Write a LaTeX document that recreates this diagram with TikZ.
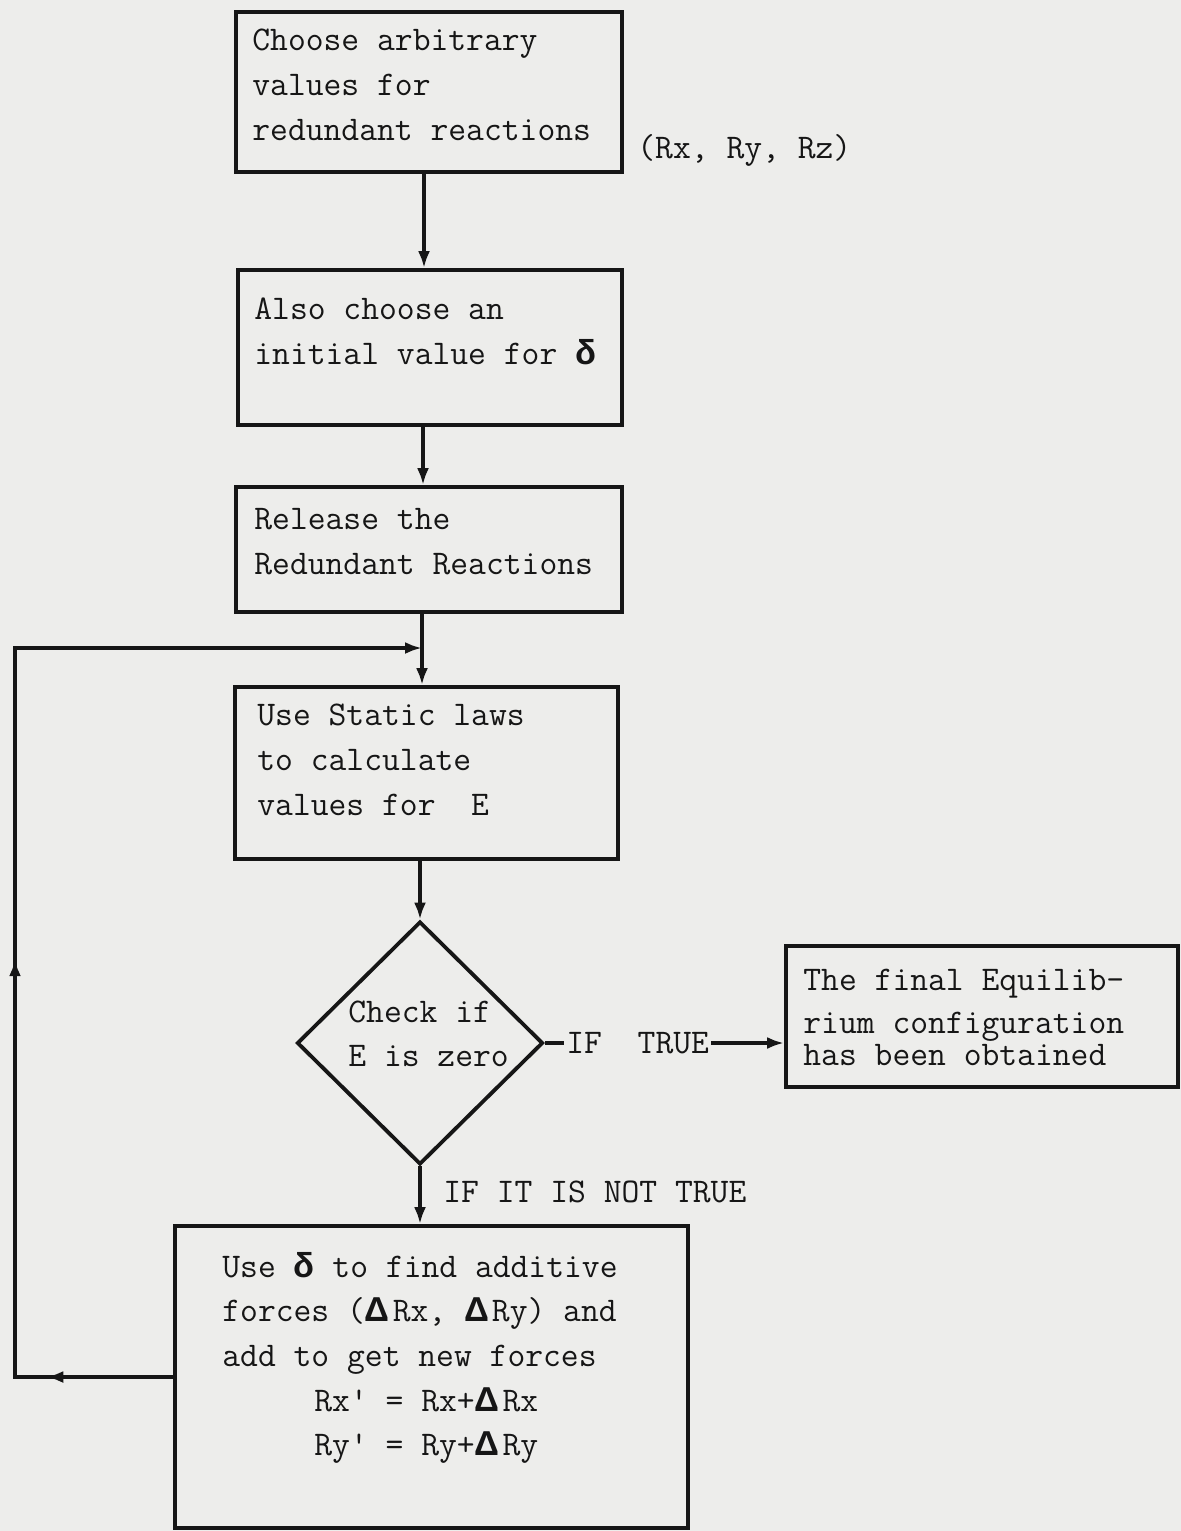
\documentclass[tikz,border=0pt]{standalone}
\usepackage{fontspec}
\newfontfamily\symfont{Liberation Sans}
\usetikzlibrary{arrows.meta,shapes.geometric,fit,decorations.markings}
\definecolor{paper}{RGB}{237,237,235}
\definecolor{ink}{RGB}{22,22,22}
\newcommand{\dlt}{{\symfont\bfseries δ}}
\newcommand{\Dlt}{{\symfont\bfseries Δ}\hspace{1.5pt}}
\begin{document}
\begin{tikzpicture}[x=0.5pt,y=-0.5pt,
  every node/.style={font=\ttfamily\fontsize{17.3pt}{22.5pt}\selectfont\addfontfeatures{FakeBold=1.2}, text=ink},
  box/.style={draw=ink, line width=1.9pt, inner sep=0pt, fit={#1}},
  txt/.style={anchor=base west, inner sep=0pt},
  conn/.style={draw=ink, line width=1.9pt},
  tipa/.style={-{Latex[length=8.5pt,width=6pt]}},
]
\fill[paper] (0,0) rectangle (1181,1531);
\useasboundingbox (0,0) rectangle (1181,1531);

% boxes
\node[box={(236,12) (622,172)}] (b1) {};
\node[box={(238,270) (622,425)}] (b2) {};
\node[box={(236,487) (622,612)}] (b3) {};
\node[box={(235,687) (618,859)}] (b4) {};
\node[draw=ink, line width=1.9pt, shape=diamond, inner sep=0pt,
      minimum width=123pt, minimum height=121.5pt] (dia) at (420,1043) {};
\node[box={(786,946) (1178,1087)}] (b5) {};
\node[box={(175,1226) (688,1528)}] (b6) {};

% texts
\node[txt] (t1a) at (252,50) {Choose arbitrary};
\node[txt] (t1b) at (252,95) {values for};
\node[txt] (t1c) at (252,140) {redundant reactions};
\node[txt] (rxyz) at (637,158) {(Rx, Ry, Rz)};

\node[txt] (t2a) at (254,319) {Also choose an};
\node[txt] (t2b) at (254,364) {initial value for \dlt};

\node[txt] (t3a) at (254,529) {Release the};
\node[txt] (t3b) at (254,574) {Redundant Reactions};

\node[txt] (t4a) at (257,725) {Use Static laws};
\node[txt] (t4b) at (257,770) {to calculate};
\node[txt] (t4c) at (257,815) {values for~~E};

\node[txt] (td1) at (348,1022) {Check if};
\node[txt] (td2) at (348,1066) {E is zero};

\node[txt, inner xsep=1pt] (iftrue) at (564,1053) {IF~~TRUE};

\node[txt] (t5a) at (803,990) {The final Equilib-};
\node[txt] (t5b) at (803,1033) {rium configuration};
\node[txt] (t5c) at (803,1065) {has been obtained};

\node[txt] (nottrue) at (443,1202) {IF IT IS NOT TRUE};

\node[txt] (t6a) at (222,1277) {Use \dlt{} to find additive};
\node[txt] (t6b) at (222,1321) {forces (\Dlt Rx, \Dlt Ry) and};
\node[txt] (t6c) at (222,1366) {add to get new forces};
\node[txt] (t6d) at (314,1411) {Rx' = Rx+\Dlt Rx};
\node[txt] (t6e) at (314,1455) {Ry' = Ry+\Dlt Ry};

% connector helper x positions
\coordinate (x1) at (424,0);
\coordinate (x2) at (423,0);
\coordinate (x3) at (422,0);
\coordinate (x4) at (420,0);
\coordinate (jn) at (422,648);
\coordinate (lb) at (15,1377);
\coordinate (lt) at (15,648);

% connectors
\draw[conn,tipa] (b1.south -| x1) -- (b2.north -| x1);
\draw[conn,tipa] (b2.south -| x2) -- (b3.north -| x2);
\draw[conn,tipa] (b3.south -| x3) -- (b4.north -| x3);
\draw[conn,tipa] (b4.south -| x4) -- (dia.north);
\draw[conn,tipa] (dia.south) -- (b6.north -| dia.south);
\draw[conn] (dia.east) -- (iftrue.west |- dia.east);
\draw[conn,tipa] (iftrue.east |- dia.east) -- (b5.west |- dia.east);
\draw[conn,tipa,line join=miter,
  postaction={decorate},
  decoration={markings,
    mark=at position 0.098 with {\arrow{Latex[length=8.5pt,width=6pt]}},
    mark=at position 0.445 with {\arrow{Latex[length=8.5pt,width=6pt]}}}]
  (b6.west |- lb) -- (lb) -- (lt) -- (jn);
\end{tikzpicture}
\end{document}
